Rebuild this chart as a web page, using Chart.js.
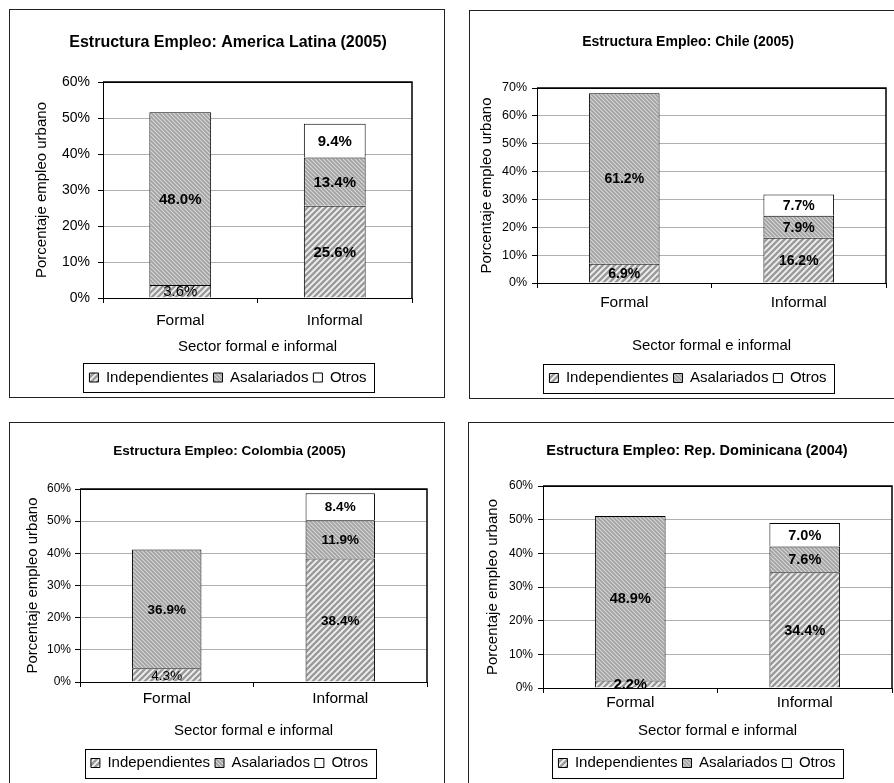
<!DOCTYPE html>
<html lang="es">
<head>
<meta charset="utf-8">
<title>Estructura Empleo</title>
<script src="https://cdn.jsdelivr.net/npm/chart.js"></script>
<style>
  html, body { margin: 0; padding: 0; background: #fff; }
  body { width: 894px; height: 783px; position: relative; overflow: hidden; }
  .frame { position: absolute; border: 1px solid #222; box-sizing: border-box; }
  canvas { position: absolute; }
</style>
</head>
<body>
<div class="frame" style="left:9px;top:9px;width:436px;height:389px"></div>
<div class="frame" style="left:469px;top:10px;width:440px;height:389px"></div>
<div class="frame" style="left:9px;top:422px;width:436px;height:380px"></div>
<div class="frame" style="left:468px;top:422px;width:440px;height:380px"></div>

<canvas id="cLatam" width="436" height="387" style="left:10px;top:10px"></canvas>
<canvas id="cChile" width="436" height="386" style="left:470px;top:11px"></canvas>
<canvas id="cColombia" width="440" height="366" style="left:10px;top:423px"></canvas>
<canvas id="cRepDom" width="456" height="366" style="left:469px;top:423px"></canvas>

<script>
// ---- data -------------------------------------------------------------
const categories = ['Formal', 'Informal'];
const seriesNames = ['Independientes', 'Asalariados', 'Otros'];
const axisTitleX = 'Sector formal e informal';
const axisTitleY = 'Porcentaje empleo urbano';

const latamTitle = 'Estructura Empleo: America Latina (2005)';
const latamIndep = [3.6, 25.6];
const latamAsal  = [48.0, 13.4];
const latamOtros = [null, 9.4];
const latamMax   = 60;

const chileTitle = 'Estructura Empleo: Chile (2005)';
const chileIndep = [6.9, 16.2];
const chileAsal  = [61.2, 7.9];
const chileOtros = [null, 7.7];
const chileMax   = 70;

const colTitle = 'Estructura Empleo: Colombia (2005)';
const colIndep = [4.3, 38.4];
const colAsal  = [36.9, 11.9];
const colOtros = [null, 8.4];
const colMax   = 60;

const rdTitle = 'Estructura Empleo: Rep. Dominicana (2004)';
const rdIndep = [2.2, 34.4];
const rdAsal  = [48.9, 7.6];
const rdOtros = [null, 7.0];
const rdMax   = 60;

const yStep = 10;

// ---- fills --------------------------------------------------------------
const FONT = "'Liberation Sans', Arial, Helvetica, sans-serif";

function hatch(size, bg, fg, width, forward) {
  const t = document.createElement('canvas');
  t.width = size; t.height = size;
  const g = t.getContext('2d');
  g.fillStyle = bg; g.fillRect(0, 0, size, size);
  g.strokeStyle = fg; g.lineWidth = width; g.lineCap = 'square';
  g.beginPath();
  if (forward) {            // "/" stripes
    g.moveTo(0, size); g.lineTo(size, 0);
    g.moveTo(-1, 1); g.lineTo(1, -1);
    g.moveTo(size - 1, size + 1); g.lineTo(size + 1, size - 1);
  } else {                  // "\" stripes
    g.moveTo(0, 0); g.lineTo(size, size);
    g.moveTo(-1, size - 1); g.lineTo(1, size + 1);
    g.moveTo(size - 1, -1); g.lineTo(size + 1, 1);
  }
  g.stroke();
  return g.createPattern(t, 'repeat');
}
const fillIndep = hatch(6, '#9a9a9a', '#f2f2f2', 1.8, true);
const fillAsal  = hatch(4, '#a2a2a2', '#d8d8d8', 1.1, false);
const fillOtros = '#ffffff';

// ---- plugins ------------------------------------------------------------
const segmentLabels = {
  id: 'segmentLabels',
  afterDatasetsDraw(chart, args, opts) {
    const ctx = chart.ctx;
    ctx.save();
    ctx.fillStyle = '#000';
    ctx.textAlign = 'center';
    ctx.textBaseline = 'middle';
    chart.data.datasets.forEach((ds, di) => {
      const meta = chart.getDatasetMeta(di);
      meta.data.forEach((bar, i) => {
        const v = ds.data[i];
        if (v === null || v === undefined) return;
        const thin = (opts.thin || []).some(p => p[0] === di && p[1] === i);
        ctx.font = (thin ? '' : 'bold ') + opts.size + 'px ' + FONT;
        ctx.fillText(v.toFixed(1) + '%', bar.x, (bar.y + bar.base) / 2 + 1);
      });
    });
    ctx.restore();
  }
};

const plotFrame = {
  id: 'plotFrame',
  afterDraw(chart) {
    const a = chart.chartArea, ctx = chart.ctx;
    ctx.save();
    ctx.strokeStyle = '#000';
    ctx.lineWidth = 1.5;
    ctx.beginPath();
    ctx.moveTo(a.left, a.top);
    ctx.lineTo(a.right, a.top);
    ctx.lineTo(a.right, a.bottom);
    ctx.stroke();
    ctx.restore();
  }
};

const legendFrame = {
  id: 'legendFrame',
  afterDraw(chart) {
    const boxes = chart.legend && chart.legend.legendHitBoxes;
    if (!boxes || !boxes.length) return;
    const left = Math.min(...boxes.map(b => b.left)) - 6;
    const right = Math.max(...boxes.map(b => b.left + b.width)) + 8;
    const cy = boxes[0].top + boxes[0].height / 2;
    const ctx = chart.ctx;
    ctx.save();
    ctx.strokeStyle = '#000';
    ctx.lineWidth = 1;
    ctx.strokeRect(Math.round(left) + 0.5, Math.round(cy - 14.5) + 0.5, Math.round(right - left), 29);
    ctx.restore();
  }
};

// ---- chart builder ------------------------------------------------------
function buildChart(id, d, s) {
  return new Chart(document.getElementById(id), {
    type: 'bar',
    data: {
      labels: categories,
      datasets: [
        { label: seriesNames[0], data: d.indep, backgroundColor: fillIndep, borderColor: '#000', borderWidth: 1 },
        { label: seriesNames[1], data: d.asal,  backgroundColor: fillAsal,  borderColor: '#000', borderWidth: 1 },
        { label: seriesNames[2], data: d.otros, backgroundColor: fillOtros, borderColor: '#000', borderWidth: 1 }
      ]
    },
    options: {
      responsive: false,
      animation: false,
      devicePixelRatio: 1,
      datasets: { bar: { barPercentage: s.barPct, categoryPercentage: 1 } },
      layout: { padding: { top: 0, left: s.padLeft, right: s.padRight, bottom: s.padBottom } },
      plugins: {
        title: {
          display: true, text: d.title, color: '#000',
          font: { family: FONT, size: s.titleSize, weight: 'bold' },
          padding: { top: s.titleTop, bottom: s.titleBottom }
        },
        legend: {
          display: true, position: 'bottom',
          labels: { boxWidth: 9, boxHeight: 9, padding: 5, color: '#000', font: { family: FONT, size: 15 } }
        },
        tooltip: { enabled: false },
        segmentLabels: { size: s.labelSize, thin: s.thin }
      },
      scales: {
        x: {
          stacked: true,
          offset: true,
          grid: { offset: true, drawOnChartArea: false, drawTicks: true, tickLength: 5, tickColor: '#000' },
          border: { color: '#000', width: 1 },
          ticks: { color: '#000', font: { family: FONT, size: 15.5 }, padding: s.xTickPad, maxRotation: 0 },
          title: { display: true, text: axisTitleX, color: '#000', font: { family: FONT, size: 15 }, padding: { top: 0, bottom: s.xTitlePad } },
          afterFit: sc => { sc.height = s.xHeight; }
        },
        y: {
          stacked: true,
          min: 0, max: d.yMax,
          ticks: { stepSize: yStep, callback: v => v + '%', color: '#000', font: { family: FONT, size: s.yTickSize }, padding: s.yTickPad },
          grid: {
            color: c => (c.tick && (c.tick.value === 0 || c.tick.value === d.yMax)) ? '#000' : '#b0b0b0',
            tickColor: '#000', tickLength: 5, lineWidth: 1
          },
          border: { color: '#000', width: 1 },
          title: { display: true, text: axisTitleY, color: '#000', font: { family: FONT, size: 15 }, padding: { top: s.yTitlePad, bottom: 0 } },
          afterFit: sc => { sc.width = s.yWidth; }
        }
      }
    },
    plugins: [segmentLabels, plotFrame, legendFrame]
  });
}

buildChart('cLatam',
  { title: latamTitle, indep: latamIndep, asal: latamAsal, otros: latamOtros, yMax: latamMax },
  { barPct: 0.4, padLeft: 34, padRight: 34, padBottom: 2, titleSize: 16, titleTop: 23.4, titleBottom: 29.4,
    xHeight: 67, xTitlePad: 9, xTickPad: 8.7, yWidth: 59, yTitlePad: -11, yTickPad: 8, yTickSize: 14,
    labelSize: 15, thin: [[0, 0]] });

buildChart('cChile',
  { title: chileTitle, indep: chileIndep, asal: chileAsal, otros: chileOtros, yMax: chileMax },
  { barPct: 0.405, padLeft: 20, padRight: 20, padBottom: 1.5, titleSize: 14, titleTop: 22.6, titleBottom: 37.6,
    xHeight: 82.5, xTitlePad: 10.5, xTickPad: 5.7, yWidth: 47, yTitlePad: -12, yTickPad: 5, yTickSize: 12.5,
    labelSize: 14, thin: [] });

buildChart('cColombia',
  { title: colTitle, indep: colIndep, asal: colAsal, otros: colOtros, yMax: colMax },
  { barPct: 0.4, padLeft: 22, padRight: 23, padBottom: 8.5, titleSize: 13.5, titleTop: 19.9, titleBottom: 29.9,
    xHeight: 68.5, xTitlePad: 10.5, xTickPad: 2.2, yWidth: 48, yTitlePad: -8, yTickPad: 4, yTickSize: 12,
    labelSize: 13.5, thin: [[0, 0]] });

buildChart('cRepDom',
  { title: rdTitle, indep: rdIndep, asal: rdAsal, otros: rdOtros, yMax: rdMax },
  { barPct: 0.405, padLeft: 33, padRight: 33, padBottom: 8.5, titleSize: 14.5, titleTop: 19.3, titleBottom: 26.3,
    xHeight: 62.5, xTitlePad: 10.5, xTickPad: 0.7, yWidth: 41, yTitlePad: -18, yTickPad: 5, yTickSize: 12,
    labelSize: 14.5, thin: [] });
</script>
</body>
</html>
